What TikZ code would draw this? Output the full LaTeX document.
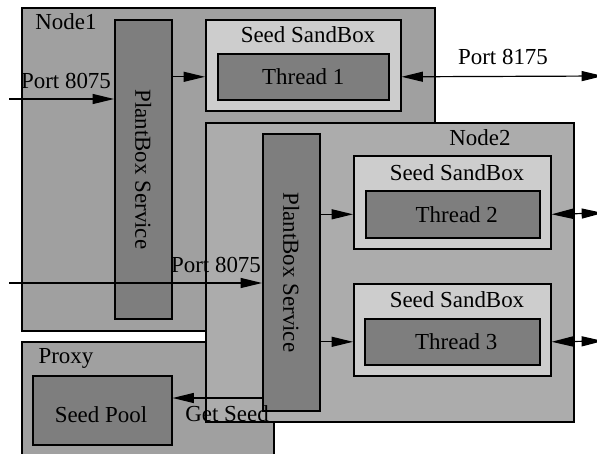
\documentclass[tikz,border=0pt]{standalone}
\usepackage{fontspec}
\setmainfont{Liberation Serif}
\usetikzlibrary{arrows.meta,positioning}
\definecolor{hostGray}{HTML}{A0A0A0}
\definecolor{hostLight}{HTML}{ACACAC}
\definecolor{sandGray}{HTML}{CDCDCD}
\definecolor{workGray}{HTML}{7E7E7E}

\begin{document}
\begin{tikzpicture}[x=0.75pt,y=-0.75pt,box/.style={draw,line width=1.2pt,anchor=north west,inner sep=0pt},lbl/.style={font=\fontsize{17.2}{19}\selectfont,inner sep=0pt},flow/.style={-{Triangle[length=16pt,width=7.5pt]},line width=0.9pt},duplex/.style={{Triangle[length=16pt,width=7.5pt]}-{Triangle[length=16pt,width=7.5pt]},line width=0.9pt}]
\useasboundingbox (0,0) rectangle (597,454);
\clip (0,0) rectangle (597,454);
% hosts
\node[box,fill=hostGray,minimum width=309.75pt,minimum height=242.25pt] (node1) at (21,7) {};
\node[box,fill=hostGray,minimum width=189pt,minimum height=93pt] (proxy) at (21,341) {};
\node[box,fill=workGray,minimum width=104.25pt,minimum height=51.75pt] (pool) at (32,375) {};
\node[box,fill=workGray,minimum width=42.75pt,minimum height=224.25pt] (plant1) at (114,19) {};
\node[box,fill=sandGray,minimum width=146.25pt,minimum height=68.25pt] (sand1) at (205,19) {};
\node[box,fill=workGray,minimum width=128.25pt,minimum height=34.5pt] (thread1) at (217,53) {};
\node[box,fill=hostLight,minimum width=276pt,minimum height=224.25pt] (node2) at (205,122) {};
\node[box,fill=workGray,minimum width=42.75pt,minimum height=207.75pt] (plant2) at (262,133) {};
\node[box,fill=sandGray,minimum width=147.75pt,minimum height=69.75pt] (sand2) at (353,155) {};
\node[box,fill=workGray,minimum width=130.5pt,minimum height=35.25pt] (thread2) at (365,190) {};
\node[box,fill=sandGray,minimum width=147.75pt,minimum height=69pt] (sand3) at (353,283) {};
\node[box,fill=workGray,minimum width=131.25pt,minimum height=34.5pt] (thread3) at (364,318) {};
% labels
\node[lbl] (node1lbl) at (66,22) {Node1};
\node[lbl] (node2lbl) at (480,138) {Node2};
\node[lbl] (proxylbl) at (66,358) {Proxy};
\node[lbl] (sand1lbl) at (308,35) {Seed SandBox};
\node[lbl] (sand2lbl) at (457,173) {Seed SandBox};
\node[lbl] (sand3lbl) at (457,300) {Seed SandBox};
\node[lbl] at (thread1) {Thread 1};
\node[lbl] at ([xshift=3pt]thread2.center) {Thread 2};
\node[lbl] at ([xshift=3pt]thread3.center) {Thread 3};
\node[lbl] (poollbl) at (101,415) {Seed Pool};
\node[lbl,rotate=-90] (plant1lbl) at (plant1) {PlantBox Service};
\node[lbl,rotate=-90] (plant2lbl) at (plant2) {PlantBox Service};
% connectors
\coordinate (in1) at (9,99);
\coordinate (in2) at (9,283);
\coordinate (out1) at (603,76);
\coordinate (out2) at (603,213);
\coordinate (out3) at (603,341);
\coordinate (get) at (262,398);
\draw[flow] (in1) -- (in1 -| plant1.west);
\draw[flow] (in2) -- (in2 -| plant2.west);
\draw[flow] (plant1.east |- thread1) -- (sand1.west |- thread1);
\draw[flow] (plant2.east |- thread2) -- (sand2.west |- thread2);
\draw[flow] (plant2.east |- thread3) -- (sand3.west |- thread3);
\draw[duplex] (sand1.east |- thread1) -- (out1);
\draw[duplex] (sand2.east |- thread2) -- (out2);
\draw[duplex] (sand3.east |- thread3) -- (out3);
\draw[flow] (get) -- (get -| pool.east);
\node[lbl] (port1) at (66,81) {Port 8075};
\node[lbl] (port2) at (216,265) {Port 8075};
\node[lbl] (port3) at (503,57) {Port 8175};
\node[lbl] (getlbl) at (227,414) {Get Seed};
\end{tikzpicture}
\end{document}
